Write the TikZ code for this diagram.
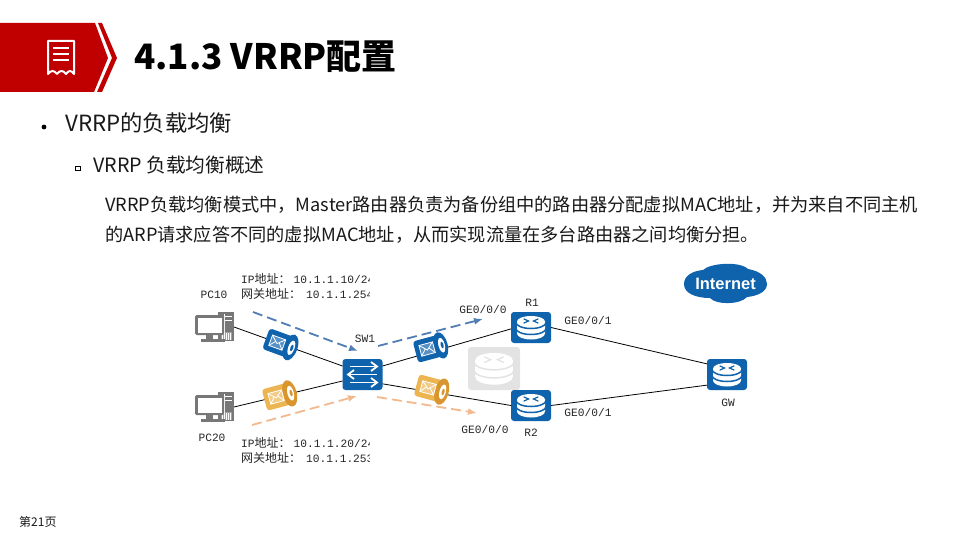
\documentclass[tikz,border=0pt]{standalone}
\usepackage{fontspec}
\setmainfont{Noto Sans CJK SC}
\newfontfamily\lblfont{Liberation Mono}
\newfontfamily\zhfont{Noto Sans CJK SC}
\newfontfamily\inetfont{Liberation Sans}
\usetikzlibrary{arrows.meta}
\definecolor{hwblue}{HTML}{0F62AC}
\definecolor{hworange}{HTML}{EDB452}
\definecolor{hworanged}{HTML}{D9962E}
\definecolor{hwred}{HTML}{C00000}
\definecolor{dashblue}{HTML}{4F7DB5}
\definecolor{dashorange}{HTML}{F2B98F}
\definecolor{ghost}{HTML}{E3E3E3}
\definecolor{pcgray}{HTML}{777777}
\newcommand{\lz}[1]{{\zhfont\fontsize{12}{12}\selectfont #1}}
\tikzset{
  x=1pt,y=-1pt,
  tile/.style={rounded corners=3pt,inner sep=0pt,outer sep=0pt,anchor=center},
  lbl/.style={font=\lblfont\fontsize{11.2}{12}\selectfont,inner sep=0pt,text=black!85},
  addr/.style={lbl,anchor=west},
  body/.style={anchor=west,inner sep=0pt,text=black!90},
  link/.style={draw=black,line width=0.8pt},
  flow/.style={line width=1.8pt,dash pattern=on 10pt off 5pt,-{Latex[length=9pt,width=7pt]}},
  pics/drum/.style={code={
    \fill[white] (-14,-6) arc[x radius=14,y radius=5.5,start angle=180,end angle=0]
      -- (14,-6) arc[x radius=14,y radius=5.5,start angle=0,end angle=-180] -- cycle;
    \fill[white] (-14,-6) -- (14,-6) -- (14,6) arc[x radius=14,y radius=6,start angle=0,end angle=180] -- cycle;
    \draw[#1,line width=1.5pt] (-15,-5) arc[x radius=15,y radius=6,start angle=180,end angle=0];
    \draw[#1,line width=1.5pt] (-15,1) arc[x radius=15,y radius=6,start angle=180,end angle=0];
    \draw[#1,line width=1.2pt,line cap=round] (-7,-8.5) -- (-2.5,-6.5) -- (-7,-4.5) (7,-8.5) -- (2.5,-6.5) -- (7,-4.5);
  }},
  pics/canister/.style 2 args={code={
    \fill[#1,rounded corners=3pt] (-16,-11) rectangle (9,11);
    \fill[#2] (10,0) ellipse[x radius=7,y radius=13.5];
    \fill[white] (11,0) ellipse[x radius=3.2,y radius=7.5];
    \fill[#2] (11.5,0) ellipse[x radius=1.4,y radius=3.4];
    \draw[white,fill=#1!70!white,line width=.8pt] (-11,-5.5) rectangle (3,5.5);
    \draw[white,line width=.8pt] (-11,-5.5) -- (-4,1) -- (3,-5.5) (-11,5.5) -- (-6,-.5) (3,5.5) -- (-2,-.5);
  }},
  pics/pc/.style={code={
    \fill[pcgray] (23,-15) rectangle (39,14);
    \fill[pcgray!70] (26,5) rectangle (37,13);
    \foreach \k in {27,29,...,36}{\draw[white,line width=.4pt] (\k,6) -- (\k,13);}
    \draw[white,line width=.5pt] (26,-11) -- (37,-11) (26,-7) -- (37,-7);
    \fill[white] (29,-13) -- (30,-13) -- (30,12) -- (29,12) -- cycle;
    \fill[pcgray,rounded corners=1.5pt] (0,-12) rectangle (29,8);
    \fill[white] (2.5,-9.5) rectangle (26.5,5.5);
    \fill[pcgray] (11,8) rectangle (18,12);
    \fill[pcgray] (6,12) rectangle (30,15);
  }},
}
\begin{document}
\begin{tikzpicture}
\useasboundingbox (0,0) rectangle (960,540);
\fill[white] (0,0) rectangle (960,540);

% banner
\fill[hwred] (0,23) -- (95,23) -- (108,58) -- (94,92) -- (0,92) -- cycle;
\fill[hwred] (98,23) -- (102,23) -- (117,58) -- (102,92) -- (97,92) -- (112,58) -- cycle;
\draw[white,line width=2pt,line join=round] (48,41) -- (74,41) -- (74,74)
  .. controls (71,70) and (69,70) .. (66,74) .. controls (63,70) and (60,70) .. (57,74)
  .. controls (54,70) and (51,70) .. (48,74) -- cycle;
\draw[white,line width=2pt] (53,48) -- (69,48) (53,54) -- (69,54) (53,60) -- (69,60);
\node[body,font=\bfseries\fontsize{35}{37}\selectfont,text=black] (title) at (134,57) {4.1.3 VRRP配置};

% bullets
\fill[black] (44,127) circle (2.4);
\node[body,font=\fontsize{22.3}{24}\selectfont] (h1) at (65,123) {VRRP的负载均衡};
\draw[black,line width=.9pt] (75.5,166.5) rectangle (80.5,170.5);
\node[body,font=\fontsize{19.7}{21}\selectfont] (h2) at (93,165) {VRRP 负载均衡概述};
\node[body,font=\fontsize{18.2}{20}\selectfont] (p1) at (105,204.5) {VRRP负载均衡模式中，Master路由器负责为备份组中的路由器分配虚拟MAC地址，并为来自不同主机};
\node[body,font=\fontsize{18.2}{20}\selectfont] (p2) at (105,234.5) {的ARP请求应答不同的虚拟MAC地址，从而实现流量在多台路由器之间均衡分担。};
\node[body,font=\fontsize{12}{13}\selectfont] (pg) at (19,522) {第21页};

% device nodes
\node[tile,fill=ghost,minimum width=52pt,minimum height=43pt] (ghostr) at (494,368.5) {};
\node[tile,fill=hwblue,minimum width=40pt,minimum height=31pt] (sw) at (362.5,374.5) {};
\node[tile,fill=hwblue,minimum width=40pt,minimum height=31pt] (r1) at (531,327.5) {};
\node[tile,fill=hwblue,minimum width=40pt,minimum height=31pt] (r2) at (531,405.5) {};
\node[tile,fill=hwblue,minimum width=40pt,minimum height=31pt] (gw) at (727,374.5) {};
\coordinate (pc10e) at (234,327);
\coordinate (pc20e) at (234,407);

% links
\draw[link] (pc10e) -- (sw.157);
\draw[link] (pc20e) -- (sw.198);
\draw[link] (sw.23) -- (r1.184);
\draw[link] (sw.-25) -- (r2.180);
\draw[link] (r1.0) -- (gw.152);
\draw[link] (r2.0) -- (gw.208);

% icons
\pic at (195,327) {pc};
\pic at (195,407) {pc};
\begin{scope}[shift={(494,368.5)},scale=1.35,transform shape]\pic {drum={ghost}};\end{scope}
\foreach \n in {r1,r2,gw}{
  \begin{scope}[shift={(\n)},transform shape]\pic {drum={hwblue}};\end{scope}
}
% switch arrows
\begin{scope}[white,line width=1.8pt,-{Straight Barb[length=6pt,width=9pt]}]
  \draw ([shift={(-13,-8)}]sw.center) -- ([shift={(16,-8)}]sw.center);
  \draw ([shift={(14,0)}]sw.center) -- ([shift={(-16,0)}]sw.center);
  \draw ([shift={(-13,8)}]sw.center) -- ([shift={(16,8)}]sw.center);
\end{scope}
% canisters
\begin{scope}[shift={(281,344)},rotate=-20,transform shape]\pic {canister={hwblue}{hwblue}};\end{scope}
\begin{scope}[shift={(431,348)},rotate=15,transform shape]\pic {canister={hwblue}{hwblue}};\end{scope}
\begin{scope}[shift={(280,396)},rotate=15,transform shape]\pic {canister={hworange}{hworanged}};\end{scope}
\begin{scope}[shift={(432,389)},rotate=-15,transform shape]\pic {canister={hworange}{hworanged}};\end{scope}

% flows
\coordinate (f1s) at (253,312); \coordinate (f1e) at (358,351);
\coordinate (f2s) at (378,346); \coordinate (f2e) at (483,319);
\coordinate (f3s) at (252,425); \coordinate (f3e) at (357,396);
\coordinate (f4s) at (377,397); \coordinate (f4e) at (477,413);
\draw[flow,dashblue] (f1s) -- (f1e);
\draw[flow,dashblue] (f2s) -- (f2e);
\draw[flow,dashorange] (f3s) -- (f3e);
\draw[flow,dashorange] (f4s) -- (f4e);

% cloud
\fill[hwblue] (684,284) .. controls (684,276) and (692,271) .. (703,270)
  .. controls (710,263) and (740,261) .. (748,269)
  .. controls (760,271) and (767,277) .. (767,284)
  .. controls (767,292) and (757,296) .. (747,297)
  .. controls (740,305) and (716,305) .. (710,298)
  .. controls (695,298) and (684,293) .. (684,284) -- cycle;
\node[inner sep=0pt,text=white,font=\inetfont\bfseries\fontsize{16.5}{17}\selectfont] (inet) at (725.5,284) {Internet};

% labels
\node[lbl] (lpc10) at (214,295) {PC10};
\node[lbl] (lpc20) at (212,438) {PC20};
\node[lbl] (lsw) at (365,339) {SW1};
\node[lbl] (lr1) at (532,303) {R1};
\node[lbl] (lr2) at (531,433) {R2};
\node[lbl] (lgw) at (728,403) {GW};
\node[lbl] (g1) at (483,309) {GE0/0/0};
\node[lbl] (g2) at (588,320) {GE0/0/1};
\node[lbl] (g3) at (588,412) {GE0/0/1};
\node[lbl] (g4) at (485,429) {GE0/0/0};
\begin{scope}
  \clip (235,270) rectangle (369,470);
  \node[addr] (a1) at (241,279) {IP\lz{地址：}\hspace{3pt}10.1.1.10/24};
  \node[addr] (a2) at (241,294) {\lz{网关地址：}\hspace{5pt}10.1.1.254};
  \node[addr] (a3) at (241,443) {IP\lz{地址：}\hspace{3pt}10.1.1.20/24};
  \node[addr] (a4) at (241,458) {\lz{网关地址：}\hspace{5pt}10.1.1.253};
\end{scope}
\end{tikzpicture}
\end{document}
